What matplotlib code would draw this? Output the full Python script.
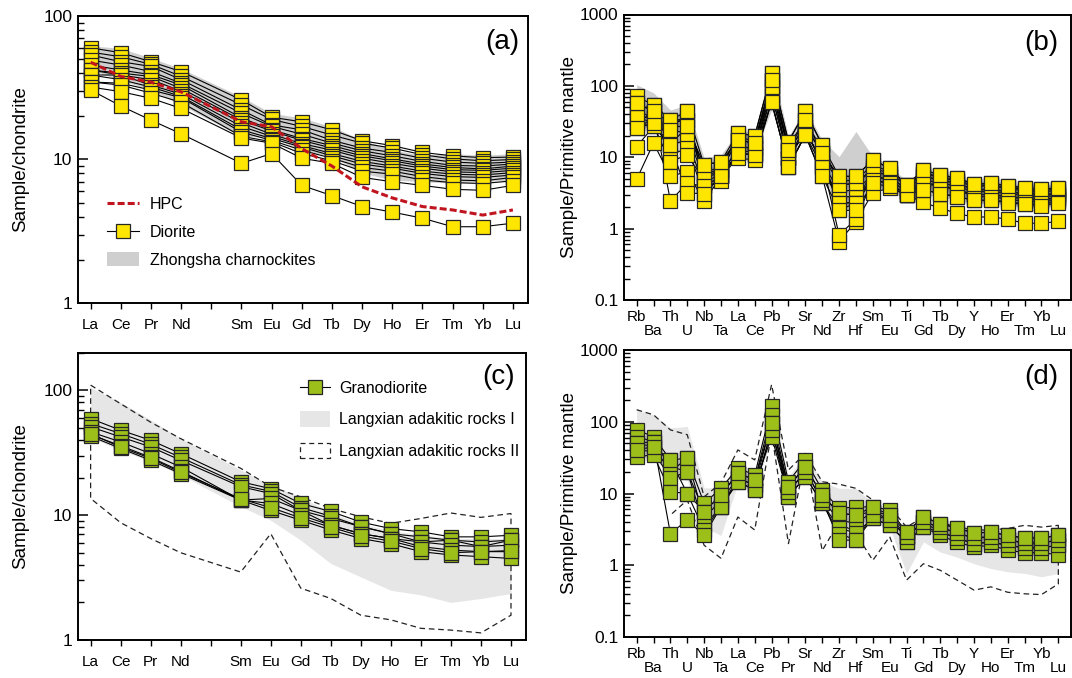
import matplotlib
matplotlib.use("Agg")
import matplotlib.pyplot as plt
from matplotlib.lines import Line2D
from matplotlib.patches import Patch
from matplotlib.ticker import LogLocator, NullFormatter

plt.rcParams["font.family"] = ["Liberation Sans", "DejaVu Sans"]

# ---------------------------------------------------------------------------
# element lists
# ---------------------------------------------------------------------------
ree = ["La", "Ce", "Pr", "Nd", "Sm", "Eu", "Gd", "Tb", "Dy", "Ho", "Er", "Tm", "Yb", "Lu"]
ree_tick_labels = ["La", "Ce", "Pr", "Nd", "", "Sm", "Eu", "Gd", "Tb", "Dy", "Ho", "Er", "Tm", "Yb", "Lu"]
spider = ["Rb", "Ba", "Th", "U", "Nb", "Ta", "La", "Ce", "Pb", "Pr", "Sr", "Nd", "Zr", "Hf",
          "Sm", "Eu", "Ti", "Gd", "Tb", "Dy", "Y", "Ho", "Er", "Tm", "Yb", "Lu"]

# ---------------------------------------------------------------------------
# (a) diorite, chondrite normalised
# ---------------------------------------------------------------------------
diorite_ree = [
    [60, 55.5, 48, 41, 26, 19.7, 18.3, 16.1, 13.5, 12.5, 11.2, 10.6, 10.3, 10.4],
    [56, 52, 46, 38, 24, 19, 17, 14.8, 13, 12, 10.8, 10.1, 9.8, 10],
    [53.5, 48, 44.5, 36, 22.1, 17.4, 16.1, 13.6, 12, 11.2, 10.2, 9.6, 9.4, 9.6],
    [49.3, 45.5, 41, 34, 21, 17, 15, 13, 11.5, 10.6, 9.7, 9.1, 9, 9.3],
    [45.6, 42, 39, 33, 19.5, 16.1, 14, 12.5, 11, 10.1, 9.3, 8.8, 8.6, 9],
    [42, 40, 37.9, 31.3, 18.8, 15.8, 13.6, 12, 10.6, 9.8, 9, 8.5, 8.4, 8.7],
    [42, 38.8, 36, 30, 18, 15, 12.9, 11.6, 10.2, 9.4, 8.7, 8.2, 8.1, 8.4],
    [38.8, 38.8, 33, 28.5, 17, 14.5, 12.5, 11, 9.7, 9, 8.3, 7.9, 7.8, 8.1],
    [38.8, 36, 32, 27.5, 16.1, 14, 12.2, 10.6, 9.3, 8.7, 8, 7.6, 7.5, 7.8],
    [34.7, 34, 30.5, 27, 15.5, 13.6, 11.6, 10.2, 8.8, 8.3, 7.6, 7.2, 7.1, 7.5],
    [34.7, 33, 29, 25, 14.5, 13.3, 11, 9.8, 8.3, 7.9, 7.2, 6.9, 6.8, 7.1],
    [32, 29.7, 26.7, 22.7, 14.1, 13, 10.2, 9.4, 7.5, 7, 6.6, 6.2, 6.1, 6.6],
    [30.5, 23.6, 18.8, 15.1, 9.4, 11, 6.6, 5.6, 4.7, 4.3, 3.9, 3.4, 3.4, 3.6],
]
hpc_ree = [47.6, 37.9, 34.6, 29.6, 18.3, 16.9, 11.9, 9.0, 6.45, 5.4, 4.7, 4.45, 4.1, 4.45]
zhongsha_ree_hi = [62, 59.5, 51, 43, 27.3, 21, 19.5, 16.9, 13.7, 11.7, 10.7, 11, 10.7, 11]
zhongsha_ree_lo = [42, 35.7, 30.5, 24, 14.4, 14.4, 11.6, 10.5, 8.05, 7.2, 7.0, 6.85, 7.0, 7.2]

# ---------------------------------------------------------------------------
# (b) diorite, primitive mantle normalised
# ---------------------------------------------------------------------------
diorite_pm = [
    [71, 54, 33.5, 43.8, 7.8, 8.7, 21.8, 19.9, 151, 16.6, 43.8, 14.9, 5.4, 5.4, 9.2, 7.0, 4.1, 6.6, 5.7, 5.1, 4.2, 4.3, 4.0, 3.7, 3.6, 3.7],
    [57, 44, 30, 33.5, 6.0, 7.5, 19, 17, 122, 14.5, 33.5, 12.5, 4.6, 4.8, 7.8, 6.3, 3.8, 5.9, 5.2, 4.6, 3.9, 4.0, 3.6, 3.4, 3.3, 3.4],
    [46, 35, 27, 27, 5.4, 6.6, 17.5, 15.8, 98, 12.7, 27, 11.4, 4.1, 4.3, 6.6, 5.4, 3.5, 5.4, 4.8, 4.3, 3.5, 3.6, 3.3, 3.1, 3.0, 3.1],
    [37, 30, 24, 21.8, 4.8, 5.4, 14, 13.4, 75, 9.7, 23, 8.7, 3.3, 3.5, 5.6, 4.8, 3.3, 4.8, 4.4, 3.9, 3.3, 3.3, 3.1, 2.9, 2.8, 2.9],
    [30, 27, 14.9, 17.5, 3.9, 5.4, 11.4, 10.8, 60, 7.4, 20.5, 7.4, 2.8, 2.8, 4.8, 4.3, 3.0, 4.3, 4.1, 3.5, 3.0, 3.0, 2.8, 2.7, 2.5, 2.7],
    [25.6, 35, 10.8, 13.4, 3.1, 5.4, 11.4, 10.8, 75, 9.7, 23, 8.7, 2.3, 2.3, 5.4, 4.8, 3.3, 4.3, 3.9, 3.5, 2.8, 2.8, 2.6, 2.4, 2.4, 2.5],
    [14.1, 27, 8.7, 10.8, 4.8, 6.6, 17.5, 15.8, 122, 12.7, 27, 11.4, 1.8, 2.3, 6.6, 5.4, 3.5, 5.4, 4.8, 4.3, 3.5, 3.5, 3.3, 3.1, 3.0, 3.1],
    [4.9, 15.8, 5.4, 6.3, 2.4, 5.4, 9.7, 9.2, 60, 7.4, 20.5, 5.4, 0.66, 1.25, 3.2, 3.7, 2.97, 2.33, 1.93, 1.64, 1.44, 1.47, 1.35, 1.19, 1.19, 1.26],
    [30, 43.8, 2.44, 4.34, 3.9, 5.4, 14, 13.4, 98, 9.7, 23, 8.7, 0.82, 1.35, 4.8, 4.3, 3.0, 3.5, 3.1, 2.8, 2.5, 2.5, 2.4, 2.2, 2.2, 2.4],
    [46, 54, 33.5, 33.5, 6.0, 6.6, 21.8, 19.9, 151, 16.6, 43.8, 14.9, 4.1, 4.3, 7.0, 6.0, 4.1, 6.0, 5.4, 4.8, 4.0, 4.1, 3.8, 3.5, 3.4, 3.6],
    [37, 35, 24, 43.8, 3.9, 4.6, 12.7, 11.5, 98, 9.7, 27, 7.4, 2.3, 2.3, 4.8, 4.3, 3.0, 4.3, 4.1, 3.5, 3.0, 3.0, 2.8, 2.6, 2.6, 2.7],
    [25.6, 30, 14.9, 3.14, 3.1, 5.4, 11.4, 10.8, 60, 7.4, 20.5, 5.4, 1.8, 1.8, 4.3, 3.9, 2.97, 3.5, 3.1, 2.8, 2.5, 2.5, 2.3, 2.2, 2.1, 2.3],
    [57, 43.8, 14.9, 27, 7.8, 8.7, 17.5, 15.8, 122, 12.7, 33.5, 11.4, 5.4, 5.4, 9.2, 7.0, 4.1, 6.6, 5.7, 5.1, 4.2, 4.3, 4.0, 3.7, 3.6, 3.7],
]
zhongsha_pm_hi = [104, 80, 46, 54, 9.8, 10.8, 23, 23, 197, 19.5, 48, 17.5, 10.2, 23, 10.2, 7.8, 4.6, 6.6, 5.9, 5.1, 4.6, 4.6, 4.2, 4.0, 4.0, 4.2]
zhongsha_pm_lo = [24, 28, 17.5, 14, 3.5, 3.9, 12.7, 11.5, 46, 9.2, 19.5, 5.4, 1.83, 2.27, 3.5, 3.7, 2.27, 3.0, 2.8, 2.5, 2.27, 2.27, 2.16, 2.0, 2.0, 2.16]

# ---------------------------------------------------------------------------
# (c) granodiorite, chondrite normalised
# ---------------------------------------------------------------------------
granodiorite_ree = [
    [59.3, 47.9, 39.8, 31.1, 18.5, 16.3, 12.4, 10.7, 8.8, 7.8, 7.35, 6.7, 6.7, 6.9],
    [54.1, 45, 37, 29, 17.5, 15.5, 11.5, 9.8, 8.1, 7.1, 6.7, 6.3, 6.1, 6.3],
    [50.9, 42.3, 35.2, 27.5, 16.9, 14.9, 10.9, 9.4, 8.1, 7.1, 6.1, 6.3, 5.6, 5.75],
    [46.4, 38.6, 31.1, 24.3, 13.2, 13.6, 10.9, 8.3, 7.1, 6.5, 6.1, 5.75, 5.6, 6.3],
    [44, 36, 29, 22.5, 13.2, 12.4, 10, 8.3, 7.1, 6.5, 5.6, 5.25, 5.1, 5.1],
    [42.9, 34.2, 27.5, 21.5, 13.2, 10.9, 9.1, 7.6, 6.5, 5.9, 5.1, 4.8, 4.65, 4.5],
    [45, 35, 28.5, 22, 13.5, 11.5, 9.5, 8, 6.8, 6.2, 5.4, 5.0, 5.1, 5.2],
]
langxian1_ree_hi = [105, 80, 58, 41, 23, 17.4, 14, 10.5, 8.5, 7.5, 7, 6.5, 6.5, 6.5]
langxian1_ree_lo = [42, 33, 27, 21, 11.7, 9.1, 6.3, 4.1, 3.2, 2.5, 2.3, 2.0, 2.15, 2.36]
langxian2_ree_hi = [110, 78, 55.5, 41, 23.7, 16.9, 14, 11.3, 9.7, 8.6, 9.4, 10.4, 9.6, 10.3]
langxian2_ree_lo = [13.6, 8.7, 6.5, 5.0, 3.5, 7.1, 2.6, 2.15, 1.58, 1.45, 1.24, 1.2, 1.14, 1.58]

# ---------------------------------------------------------------------------
# (d) granodiorite, primitive mantle normalised
# ---------------------------------------------------------------------------
granodiorite_pm = [
    [77, 62, 29.4, 31, 7.3, 11.8, 22.6, 18.1, 164, 14.6, 29.4, 11.2, 6.2, 6.5, 6.5, 5.9, 2.9, 4.7, 3.8, 3.3, 2.8, 2.9, 2.6, 2.4, 2.4, 2.6],
    [62, 53, 23.7, 20.2, 5.6, 9.5, 19.2, 15.5, 125, 12.4, 23.7, 9.5, 5.3, 5.0, 5.6, 5.0, 2.5, 4.0, 3.4, 2.8, 2.4, 2.5, 2.24, 2.05, 2.05, 2.24],
    [50, 45, 20.2, 31, 4.5, 8.1, 16.3, 13.1, 96, 10.6, 20.2, 8.1, 4.3, 3.8, 5.6, 4.3, 2.5, 4.0, 2.9, 2.4, 2.0, 2.1, 1.9, 1.75, 1.75, 1.9],
    [40.5, 38.5, 16.3, 20.2, 3.6, 6.5, 14.6, 11.2, 77, 9.0, 17.2, 7.3, 3.3, 2.8, 4.5, 3.6, 2.1, 3.4, 2.6, 2.1, 1.8, 1.9, 1.62, 1.5, 1.5, 1.4],
    [32.7, 34.4, 10.6, 10, 3.1, 6.5, 16.3, 13.1, 62, 9.0, 17.2, 7.3, 2.77, 2.24, 4.5, 3.6, 2.1, 3.4, 2.9, 2.4, 2.0, 2.1, 1.9, 1.75, 1.75, 1.9],
    [50, 53, 2.77, 4.26, 2.6, 6.5, 14.6, 11.2, 77, 10.6, 20.2, 8.1, 2.24, 2.24, 5.0, 4.3, 2.5, 4.0, 3.4, 2.8, 2.4, 2.5, 2.24, 2.05, 2.05, 2.24],
    [40.5, 45, 29.4, 10, 5.6, 9.5, 19.2, 15.5, 96, 12.4, 23.7, 9.5, 5.3, 5.0, 6.5, 5.0, 2.9, 4.7, 3.8, 3.3, 2.8, 2.9, 2.6, 2.4, 2.4, 2.6],
]
langxian1_pm_hi = [147, 125, 82, 86, 12, 12, 26.4, 21.3, 164, 17.2, 34.4, 14.6, 11.8, 11.8, 7.3, 6.5, 2.77, 4.5, 4.0, 3.6, 3.2, 3.1, 3.0, 2.9, 2.85, 2.77]
langxian1_pm_lo = [29.4, 29, 20, 15, 3.4, 2.6, 13.9, 10, 62, 9, 17.2, 7.3, 3.4, 3.6, 3.8, 3.4, 0.77, 2.12, 1.53, 1.3, 1.05, 0.9, 0.81, 0.77, 0.69, 0.77]
langxian2_pm_hi = [147, 125, 77, 66, 9, 14, 40.5, 29.4, 330, 21.3, 36.3, 14.6, 13.5, 11.8, 8.1, 6.5, 3.4, 4.7, 4.0, 3.4, 3.1, 3.1, 3.26, 3.6, 3.4, 3.6]
langxian2_pm_lo = [5.0, 8.1, 1.9, 1.25, 4.7, 3.1, 70, 2.0, 33, 1.6, 4, 2.77, 1.17, 2.5, 0.62, 1.05, 0.85, 0.62, 0.45, 0.5, 0.42, 0.4, 0.39, 0.55]  # Th..Lu

# ---------------------------------------------------------------------------
YELLOW = "#FFE600"
GREEN = "#9DBF1A"
EDGE = "#262626"
RED = "#C0151F"
GREY_DARK = "#CFCFCF"
GREY_LIGHT = "#E6E6E6"

W, H = 1072, 678
ree_x = [i if i < 4 else i + 1 for i in range(len(ree))]
spider_x = list(range(len(spider)))


def box(left, top, right, bottom):
    return [left / W, 1 - bottom / H, (right - left) / W, (bottom - top) / H]


def style_log_axis(ax, ylim, yticks, ylabels, ylabel, label_x):
    ax.set_yscale("log")
    ax.set_ylim(*ylim)
    ax.set_yticks(yticks, ylabels)
    ax.yaxis.set_minor_locator(LogLocator(base=10, subs=range(2, 10), numticks=30))
    ax.yaxis.set_minor_formatter(NullFormatter())
    ax.tick_params(axis="y", which="major", direction="in", length=7, width=1.1, labelsize=12.5, pad=4)
    ax.tick_params(axis="y", which="minor", direction="in", length=4, width=1.0)
    ax.set_ylabel(ylabel, fontsize=13.5)
    ax.yaxis.set_label_coords(label_x, 0.5)
    for side in ("top", "right", "bottom", "left"):
        ax.spines[side].set_linewidth(1.4)


def ree_xaxis(ax):
    ax.set_xlim(-0.43, 14.5)
    ax.set_xticks(range(15), ree_tick_labels)
    ax.tick_params(axis="x", direction="out", length=4, width=1.0, labelsize=11, pad=7)


def spider_xaxis(ax):
    ax.set_xlim(-0.75, 25.75)
    ax.set_xticks(spider_x[0::2], spider[0::2])
    ax.set_xticks(spider_x[1::2], spider[1::2], minor=True)
    ax.tick_params(axis="x", which="major", direction="out", length=4, width=1.0, labelsize=11, pad=3)
    ax.tick_params(axis="x", which="minor", direction="out", length=4, width=1.0, labelsize=11, pad=13.5)


def draw_samples(ax, xs, samples, color):
    for s in samples:
        ax.plot(xs, s, color="black", lw=0.8, zorder=3)
    for s in samples:
        ax.plot(xs, s, ls="none", marker="s", ms=9.5, mfc=color, mec=EDGE, mew=0.9, zorder=4)


fig = plt.figure(figsize=(W / 100, H / 100), dpi=100)
axA = fig.add_axes(box(77.7, 16, 528, 303))
axB = fig.add_axes(box(624, 14.5, 1071, 300))
axC = fig.add_axes(box(77.7, 352.7, 526, 640))
axD = fig.add_axes(box(624, 350, 1071, 637))

# ---------------- (a)
axA.fill_between(ree_x, zhongsha_ree_lo, zhongsha_ree_hi, color=GREY_DARK, lw=0, zorder=1)
draw_samples(axA, ree_x, diorite_ree, YELLOW)
axA.plot(ree_x, hpc_ree, color=RED, lw=2.2, ls=(0, (2.3, 1.0)), zorder=5)
style_log_axis(axA, (1, 100), [1, 10, 100], ["1", "10", "100"], "Sample/chondrite", -0.108)
ree_xaxis(axA)
handles_a = [
    Line2D([], [], color=RED, lw=2.2, ls=(0, (2.3, 1.0))),
    Line2D([], [], color="black", lw=0.8, marker="s", ms=9.5, mfc=YELLOW, mec=EDGE, mew=0.9),
    Patch(facecolor=GREY_DARK, edgecolor="none"),
]
axA.legend(handles_a, ["HPC", "Diorite", "Zhongsha charnockites"], loc="upper left",
           bbox_to_anchor=(0.065, 0.37), frameon=False, fontsize=11.5, handlelength=2.0,
           handleheight=1.0, handletextpad=0.7, labelspacing=0.75, borderaxespad=0, borderpad=0)

# ---------------- (b)
axB.fill_between(spider_x, zhongsha_pm_lo, zhongsha_pm_hi, color=GREY_DARK, lw=0, zorder=1)
draw_samples(axB, spider_x, diorite_pm, YELLOW)
style_log_axis(axB, (0.1, 1000), [0.1, 1, 10, 100, 1000], ["0.1", "1", "10", "100", "1000"],
               "Sample/Primitive mantle", -0.103)
spider_xaxis(axB)

# ---------------- (c)
axC.fill_between(ree_x, langxian1_ree_lo, langxian1_ree_hi, color=GREY_LIGHT, lw=0, zorder=1)
axC.fill(ree_x + ree_x[::-1], langxian2_ree_hi + langxian2_ree_lo[::-1], fill=False,
         edgecolor="#222222", lw=0.9, ls=(0, (4.5, 3)), zorder=2)
draw_samples(axC, ree_x, granodiorite_ree, GREEN)
style_log_axis(axC, (1, 200), [1, 10, 100], ["1", "10", "100"], "Sample/chondrite", -0.108)
ree_xaxis(axC)
handles_c = [
    Line2D([], [], color="black", lw=0.8, marker="s", ms=9.5, mfc=GREEN, mec=EDGE, mew=0.9),
    Patch(facecolor=GREY_LIGHT, edgecolor="none"),
    Patch(facecolor="white", edgecolor="#222222", lw=0.9, ls=(0, (4, 3))),
]
axC.legend(handles_c, ["Granodiorite", "Langxian adakitic rocks I", "Langxian adakitic rocks II"],
           loc="upper left", bbox_to_anchor=(0.496, 0.905), frameon=False, fontsize=11.5,
           handlelength=1.85, handleheight=1.1, handletextpad=0.6, labelspacing=0.95,
           borderaxespad=0, borderpad=0)

# ---------------- (d)
axD.fill_between(spider_x, langxian1_pm_lo, langxian1_pm_hi, color=GREY_LIGHT, lw=0, zorder=1)
axD.plot(spider_x + spider_x[:1:-1], langxian2_pm_hi + langxian2_pm_lo[::-1],
         color="#222222", lw=0.9, ls=(0, (4.5, 3)), zorder=2)
draw_samples(axD, spider_x, granodiorite_pm, GREEN)
style_log_axis(axD, (0.1, 1000), [0.1, 1, 10, 100, 1000], ["0.1", "1", "10", "100", "1000"],
               "Sample/Primitive mantle", -0.103)
spider_xaxis(axD)

# panel letters
for label, x, y in [("(a)", 502, 42), ("(b)", 1041, 43), ("(c)", 499, 377), ("(d)", 1041, 377)]:
    fig.text(x / W, 1 - y / H, label, ha="center", va="center", fontsize=20)

fig.savefig("out.png", dpi=100)
